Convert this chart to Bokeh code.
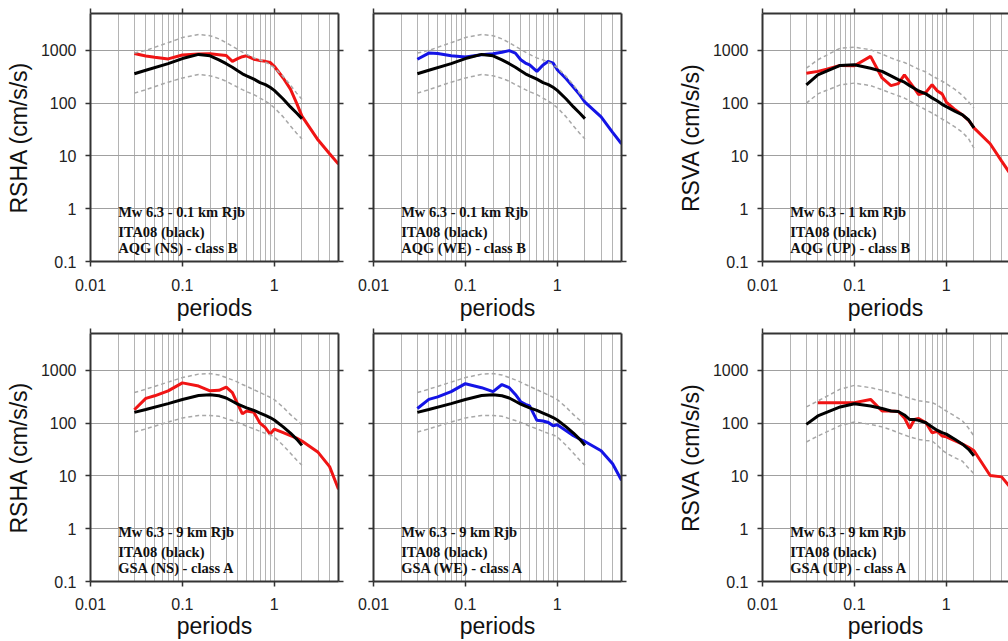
from bokeh.plotting import figure
from bokeh.layouts import column, row
from bokeh.models import FixedTicker, LogAxis, Range1d, CustomJSTickFormatter
from bokeh.core.properties import value
from bokeh.embed import file_html
from bokeh.resources import INLINE

nan = float("nan")

# ---------------- data ----------------
T_model = [0.03, 0.04, 0.07, 0.1, 0.15, 0.2, 0.25, 0.3, 0.35, 0.4, 0.45, 0.5,
           0.6, 0.7, 0.8, 0.9, 1.0, 1.25, 1.5, 1.75, 2.0]
T_obs = [0.03, 0.04, 0.05, 0.07, 0.1, 0.15, 0.2, 0.25, 0.3, 0.35, 0.4, 0.45, 0.5,
         0.6, 0.7, 0.8, 0.9, 1.0, 1.25, 1.5, 1.75, 2.0, 3.0, 4.0, 5.0]

# ITA08, 0.1 km, horizontal
ita_01h_mean = [360, 420, 560, 700, 840, 790, 660, 560, 480, 410, 360, 330, 285, 245, 225, 200, 175, 120, 85, 65, 51]
ita_01h_upper = [890, 1000, 1400, 1750, 2000, 1900, 1650, 1400, 1200, 1050, 930, 840, 720, 660, 600, 540, 470, 320, 220, 155, 118]
ita_01h_lower = [155, 180, 250, 300, 350, 330, 295, 260, 225, 200, 180, 165, 145, 125, 110, 95, 82, 55, 37, 27, 21]
# ITA08, 1 km, vertical
ita_1v_mean = [222, 345, 520, 535, 460, 400, 330, 280, 250, 215, 190, 170, 150, 126, 110, 95, 86, 70, 60, 48, 34]
ita_1v_upper = [460, 665, 1100, 1150, 1030, 850, 720, 640, 590, 530, 480, 440, 390, 330, 290, 260, 235, 180, 140, 105, 80]
ita_1v_lower = [100, 150, 222, 240, 215, 180, 155, 138, 125, 110, 98, 88, 75, 65, 57, 50, 45, 35, 28, 21, 14]
# ITA08, 9 km, horizontal
ita_9h_mean = [160, 182, 235, 280, 335, 345, 330, 300, 260, 230, 210, 195, 175, 155, 140, 128, 115, 85, 65, 50, 38]
ita_9h_upper = [380, 440, 600, 730, 850, 870, 820, 730, 660, 600, 540, 500, 430, 380, 340, 310, 280, 200, 145, 115, 93]
ita_9h_lower = [68, 78, 105, 125, 140, 140, 135, 122, 112, 103, 95, 88, 78, 70, 64, 60, 55, 38, 27, 20, 16]
# ITA08, 9 km, vertical
ita_9v_mean = [95, 137, 203, 233, 212, 190, 170, 166, 143, 117, 117, 113, 102, 85, 73, 66, 62, 49, 40, 32, 24]
ita_9v_upper = [203, 263, 440, 520, 470, 420, 380, 355, 320, 295, 280, 265, 255, 245, 220, 190, 170, 135, 110, 80, 57]
ita_9v_lower = [44, 57, 90, 105, 95, 85, 75, 66, 60, 55, 52, 49, 47, 46, 38, 31, 27, 22, 19, 14, 11]

# observed spectra
aqg_ns = [870, 780, 740, 690, 820, 850, 860, 830, 800, 620, 700, 760, 790, 680, 640, 620, 590, 500, 300, 185, 100, 57, 20, 11, 7]
aqg_we = [680, 890, 870, 790, 750, 830, 860, 920, 990, 890, 665, 575, 530, 400, 530, 620, 575, 430, 290, 200, 145, 105, 55, 28, 17]
aqg_up = [370, 400, 440, 520, 510, 770, 300, 215, 235, 345, 250, 190, 145, 160, 224, 170, 150, 105, 75, 60, 47, 34, 17, 8, 4.5]
gsa_ns = [180, 295, 330, 410, 580, 505, 410, 420, 480, 380, 230, 150, 170, 160, 100, 82, 62, 77, 66, 58, 52, 46, 28, 15, 5.6]
gsa_we = [190, 282, 315, 395, 560, 470, 395, 540, 470, 350, 255, 228, 212, 113, 110, 103, 89, 93, 72, 58, 50, 45, 30, 17, 8.3]
gsa_up = [nan, 245, 245, 245, 245, 282, 170, 170, 166, 126, 80, 117, 123, 102, 66, 70, 57, 55, 46, 40, 35, 30, 10.2, 9.6, 6]

notes_aqg_ns = ["Mw 6.3 - 0.1 km Rjb", "ITA08 (black)", "AQG (NS) - class B"]
notes_aqg_we = ["Mw 6.3 - 0.1 km Rjb", "ITA08 (black)", "AQG (WE) - class B"]
notes_aqg_up = ["Mw 6.3 - 1 km Rjb", "ITA08 (black)", "AQG (UP) - class B"]
notes_gsa_ns = ["Mw 6.3 - 9 km Rjb", "ITA08 (black)", "GSA (NS) - class A"]
notes_gsa_we = ["Mw 6.3 - 9 km Rjb", "ITA08 (black)", "GSA (WE) - class A"]
notes_gsa_up = ["Mw 6.3 - 9 km Rjb", "ITA08 (black)", "GSA (UP) - class A"]

x_major = [0.01, 0.1, 1]
x_major_labels = ["0.01", "0.1", "1"]
y_major = [0.1, 1, 10, 100, 1000]
y_major_labels = ["0.1", "1", "10", "100", "1000"]
x_grid_ticks = [0.02, 0.03, 0.04, 0.05, 0.06, 0.07, 0.08, 0.09,
                0.1, 0.2, 0.3, 0.4, 0.5, 0.6, 0.7, 0.8, 0.9,
                1, 2, 3, 4]
y_grid_ticks = [1, 10, 100, 1000]

# ---------------- styling ----------------
FRAME = "#333333"
RED = "#f01414"
BLUE = "#1414e6"
DASH = "#a8a8a8"
note_x = 0.02
note_y = [0.866, 0.356, 0.183]


def labeller(vals, labs):
    return CustomJSTickFormatter(args=dict(vals=vals, labs=labs), code="""
        for (let i = 0; i < vals.length; i++) {
            if (Math.abs(vals[i] - tick) <= 1e-9 * Math.max(1, Math.abs(vals[i]))) return labs[i];
        }
        return "";
    """)


def style_axis(ax):
    ax.axis_line_color = FRAME
    ax.axis_line_width = 2
    ax.major_tick_out = 5
    ax.major_tick_in = 0
    ax.major_tick_line_color = FRAME
    ax.major_tick_line_width = 1.5
    ax.minor_tick_line_color = None
    ax.major_label_text_font = "Liberation Sans"
    ax.major_label_text_font_size = "16px"
    ax.major_label_text_color = "#222222"
    ax.axis_label_text_font = "Liberation Sans"
    ax.axis_label_text_font_size = "23px"
    ax.axis_label_text_font_style = "normal"
    ax.axis_label_text_color = "#111111"


def blank_axis(ax):
    style_axis(ax)
    ax.formatter = CustomJSTickFormatter(code="return ''")
    ax.major_label_text_font_size = "0px"
    ax.major_label_standoff = 0


def panel(w, h, bl, br, bt, bb, x_end, ylabel, obs, obs_color, mean, upper, lower,
          notes, right_axis, x_std, xl_std):
    p = figure(width=w, height=h, x_axis_type="log", y_axis_type="log",
               x_range=Range1d(0.01, x_end), y_range=Range1d(0.1, 5000),
               output_backend="svg", toolbar_location=None, title=None,
               min_border_left=bl, min_border_right=br, min_border_top=bt,
               min_border_bottom=bb)
    p.outline_line_color = None
    p.background_fill_color = "white"
    p.border_fill_color = "white"

    p.xgrid.ticker = FixedTicker(ticks=x_grid_ticks)
    p.ygrid.ticker = FixedTicker(ticks=y_grid_ticks)
    p.xgrid.grid_line_color = "#b4b4b4"
    p.ygrid.grid_line_color = "#a0a0a0"
    p.xgrid.grid_line_width = 1
    p.ygrid.grid_line_width = 1

    xa = p.xaxis[0]
    style_axis(xa)
    xa.ticker = FixedTicker(ticks=x_major)
    xa.formatter = labeller(x_major, x_major_labels)
    xa.axis_label = "periods"
    xa.major_label_standoff = x_std
    xa.axis_label_standoff = xl_std

    ya = p.yaxis[0]
    ya.ticker = FixedTicker(ticks=y_major)
    if ylabel:
        style_axis(ya)
        ya.formatter = labeller(y_major, y_major_labels)
        ya.axis_label = ylabel
        ya.major_label_standoff = 9
        ya.axis_label_standoff = 6
    else:
        blank_axis(ya)

    top = LogAxis(ticker=FixedTicker(ticks=x_major))
    blank_axis(top)
    p.add_layout(top, "above")
    if right_axis:
        rt = LogAxis(ticker=FixedTicker(ticks=y_major))
        blank_axis(rt)
        p.add_layout(rt, "right")

    p.line(T_obs, obs, line_color=obs_color, line_width=3)
    p.line(T_model, mean, line_color="black", line_width=3)
    p.line(T_model, upper, line_color=DASH, line_width=1.5, line_dash="4 3")
    p.line(T_model, lower, line_color=DASH, line_width=1.5, line_dash="4 3")

    p.text(x=[note_x] * len(notes), y=note_y, text=notes,
           text_font=value("Liberation Serif"), text_font_style="bold",
           text_font_size="14.5px", text_baseline="middle", text_align="left",
           text_color="#111111")
    return p


H1, H2 = 328, 313
f1 = panel(348, H1, 90, 10, 13, 67, 5, "RSHA (cm/s/s)", aqg_ns, RED,
           ita_01h_mean, ita_01h_upper, ita_01h_lower, notes_aqg_ns, True, 12, 1)
f2 = panel(283, H1, 25, 10, 13, 67, 5, None, aqg_we, BLUE,
           ita_01h_mean, ita_01h_upper, ita_01h_lower, notes_aqg_we, True, 12, 1)
f3 = panel(377, H1, 131, 0, 13, 67, 4.75, "RSVA (cm/s/s)", aqg_up, RED,
           ita_1v_mean, ita_1v_upper, ita_1v_lower, notes_aqg_up, False, 12, 1)
f4 = panel(348, H2, 90, 10, 5, 60, 5, "RSHA (cm/s/s)", gsa_ns, RED,
           ita_9h_mean, ita_9h_upper, ita_9h_lower, notes_gsa_ns, True, 11, 0)
f5 = panel(283, H2, 25, 10, 5, 60, 5, None, gsa_we, BLUE,
           ita_9h_mean, ita_9h_upper, ita_9h_lower, notes_gsa_we, True, 11, 0)
f6 = panel(377, H2, 131, 0, 5, 60, 4.75, "RSVA (cm/s/s)", gsa_up, RED,
           ita_9v_mean, ita_9v_upper, ita_9v_lower, notes_gsa_up, False, 11, 0)

layout = column(row(f1, f2, f3, spacing=0), row(f4, f5, f6, spacing=0), spacing=0)

open("out.html", "w").write(file_html(layout, INLINE))
